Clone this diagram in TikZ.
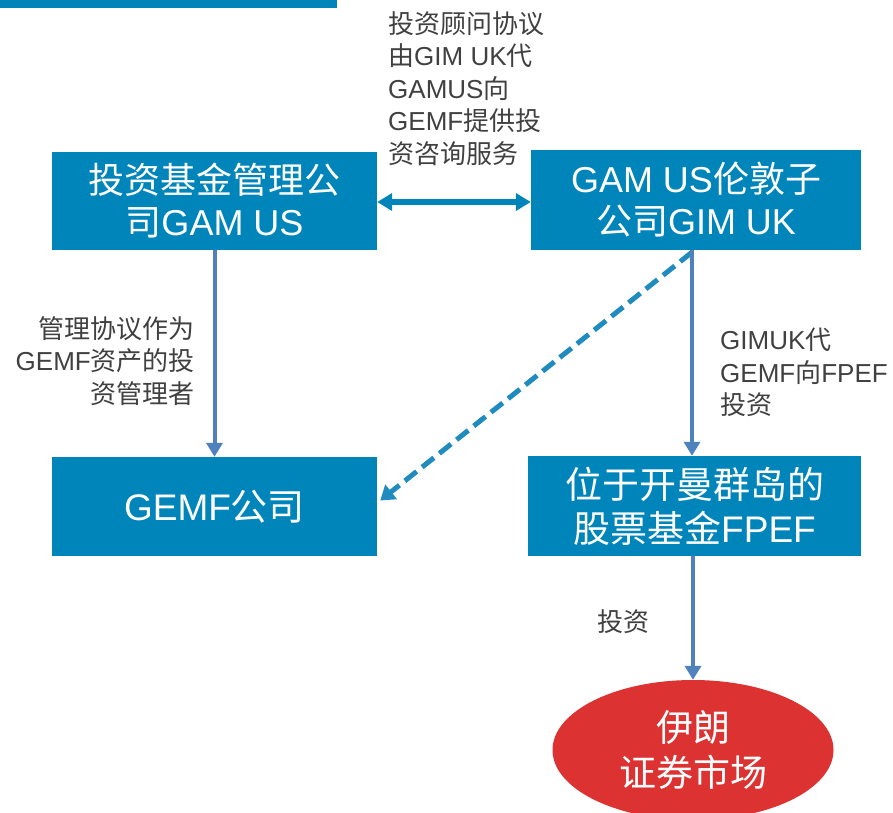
\documentclass[tikz,border=0pt]{standalone}
\usepackage{fontspec}
\setmainfont{Noto Sans CJK SC}
\newfontfamily\lat{Liberation Sans}
\usetikzlibrary{arrows.meta,shapes.geometric,calc}
\definecolor{boxblue}{HTML}{0085BA}
\definecolor{arrblue}{HTML}{4F81BD}
\definecolor{dashblue}{HTML}{1F8BBE}
\definecolor{ellred}{HTML}{DC3232}
\definecolor{labgray}{HTML}{404040}
\begin{document}
\begin{tikzpicture}[x=1pt,y=-1pt,
  bluebox/.style={fill=boxblue,draw=none,text=white,align=center,inner sep=0pt},
  lab/.style={text=labgray,font=\fontsize{26}{32.5}\selectfont,inner sep=0pt},
  varrow/.style={draw=arrblue,line width=4pt,-{Triangle[width=16pt,length=14pt]}},
]
\useasboundingbox (0,0) rectangle (893,812);
\fill[boxblue] (0,0) rectangle (337,8);
\node[bluebox,minimum width=325pt,minimum height=98pt,font=\fontsize{36}{42}\selectfont] (A) at (214.5,201) {投资基金管理公\\司{\lat GAM US}};
\node[bluebox,minimum width=330pt,minimum height=100pt,font=\fontsize{36}{42}\selectfont] (B) at (696,200) {{\lat GAM US}伦敦子\\公司{\lat GIM UK}};
\node[bluebox,minimum width=325pt,minimum height=99pt,font=\fontsize{37}{42}\selectfont] (C) at (214.5,506.5) {{\lat GEMF}公司};
\node[bluebox,minimum width=333pt,minimum height=100pt,font=\fontsize{37}{44}\selectfont] (D) at (694.5,506) {位于开曼群岛的\\股票基金{\lat FPEF}};
\node[ellipse,fill=ellred,draw=none,text=white,minimum width=281pt,minimum height=140pt,inner sep=0pt,align=center,font=\fontsize{37}{45}\selectfont] (E) at (693,750) {伊朗\\证券市场};
\node[lab,anchor=north west,align=left] (L1) at (388,11) {投资顾问协议\\由{\lat GIM UK}代\\{\lat GAMUS}向\\{\lat GEMF}提供投\\资咨询服务};
\node[lab,anchor=north east,align=right] (L2) at (195,316) {管理协议作为\\{\lat GEMF}资产的投\\资管理者};
\node[lab,anchor=north west,align=left] (L3) at (720,328) {{\lat GIMUK}代\\{\lat GEMF}向{\lat FPEF}\\投资};
\node[lab,anchor=north west] (L4) at (597,609) {投资};
\draw[draw=boxblue,line width=6pt,{Triangle[width=17pt,length=15pt]}-{Triangle[width=17pt,length=15pt]}] (A.east |- 0,202) -- (B.west |- 0,202);
\draw[draw=dashblue,line width=5pt,dash pattern=on 15pt off 7pt,-{Triangle[width=18pt,length=14pt]}] ($(B.south)+(-4,2)$) -- ($(C.east)+(3,-6)$);
\draw[varrow] (A.south) -- (A.south |- C.north);
\draw[varrow] ($(B.south)+(-4,0)$) -- ($(D.north)+(-2.5,0)$);
\draw[varrow] (D.south -| E.north) -- (E.north);
\end{tikzpicture}
\end{document}
